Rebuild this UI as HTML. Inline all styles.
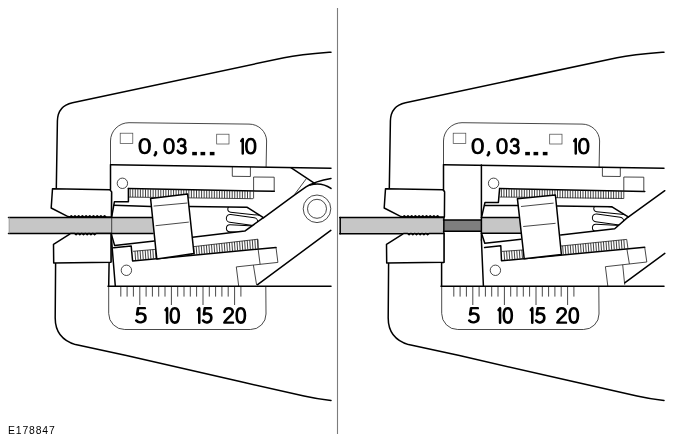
<!DOCTYPE html>
<html><head><meta charset="utf-8"><title>E178847</title>
<style>
html,body{margin:0;padding:0;background:#fff;}
body{width:674px;height:443px;overflow:hidden;position:relative;font-family:"Liberation Sans",sans-serif;}
svg{position:absolute;left:0;top:0;display:block;}
.k{fill:none;stroke:#000;stroke-width:1.5;stroke-linecap:round;stroke-linejoin:round;}
.m{fill:none;stroke:#000;stroke-width:1.0;stroke-linecap:round;stroke-linejoin:round;}
.t{fill:none;stroke:#1a1a1a;stroke-width:0.8;}
.q{fill:none;stroke:#444;stroke-width:0.7;}
.th{fill:none;stroke:#111;stroke-width:0.8;}
.g{fill:none;stroke:#000;stroke-linecap:round;stroke-linejoin:round;}
.lbl{position:absolute;left:8.4px;top:424.5px;font-size:10.4px;line-height:12px;letter-spacing:0.85px;color:#000;will-change:transform;}
</style></head>
<body>
<svg width="674" height="443" viewBox="0 0 674 443">
<rect width="674" height="443" fill="#fff"/>
<line x1="337.5" y1="8" x2="337.5" y2="434" stroke="#7c7c7c" stroke-width="1.1"/>
<g id="L">
<rect x="8.8" y="217.4" width="145" height="16" fill="#c6c6c6"/>
<line x1="8.5" y1="217.4" x2="152.0" y2="217.4" class="k"/>
<line x1="8.5" y1="233.4" x2="153.0" y2="233.4" class="k"/>
<line x1="9.2" y1="217.4" x2="9.2" y2="233.4" class="t" style="stroke:#999"/>
<line x1="110.5" y1="164.7" x2="110.5" y2="189.6" class="k"/>
<line x1="111.7" y1="192.0" x2="111.7" y2="262.0" class="t"/>
<line x1="109.1" y1="262.4" x2="108.7" y2="286.0" class="k"/>
<circle cx="122.4" cy="183.3" r="5.2" class="t"/>
<circle cx="126.4" cy="270.3" r="5.2" class="t"/>
<line x1="128.4" y1="188.6" x2="274.3" y2="191.3" class="k"/>
<path d="M130.20,189.12L130.20,197.02M132.75,189.15L132.75,197.05M135.30,189.19L135.30,197.09M137.85,189.22L137.85,197.12M140.40,189.25L140.40,197.15M142.95,189.28L142.95,197.18M145.50,189.31L145.50,197.21M148.05,189.35L148.05,197.25M150.60,189.38L150.60,197.28M153.15,189.41L153.15,197.31M155.70,189.44L155.70,197.34M158.25,189.47L158.25,197.37M160.80,189.50L160.80,197.41M163.35,189.54L163.35,197.44M165.90,189.57L165.90,197.47M168.45,189.60L168.45,197.50M171.00,189.63L171.00,197.53M173.55,189.66L173.55,197.56M176.10,189.70L176.10,197.60M178.65,189.73L178.65,197.63M181.20,189.76L181.20,197.66M183.75,189.79L183.75,197.69M186.30,189.82L186.30,197.72M188.85,189.86L188.85,197.76M191.40,189.89L191.40,197.79M193.95,189.92L193.95,197.82M196.50,189.95L196.50,197.85M199.05,189.98L199.05,197.88M201.60,190.01L201.60,197.91M204.15,190.05L204.15,197.95M206.70,190.08L206.70,197.98M209.25,190.11L209.25,198.01M211.80,190.14L211.80,198.04M214.35,190.17L214.35,198.07M216.90,190.21L216.90,198.11M219.45,190.24L219.45,198.14M222.00,190.27L222.00,198.17M224.55,190.30L224.55,198.20M227.10,190.33L227.10,198.23M229.65,190.37L229.65,198.27M232.20,190.40L232.20,198.30M234.75,190.43L234.75,198.33M237.30,190.46L237.30,198.36M239.85,190.49L239.85,198.39M242.40,190.53L242.40,198.43M244.95,190.56L244.95,198.46M247.50,190.59L247.50,198.49M250.05,190.62L250.05,198.52" class="th"/>
<line x1="128.4" y1="197.1" x2="253.0" y2="198.7" class="t"/>
<path d="M128.4,188.6 L128.4,201.8 L114.4,201.8 L111.7,216.8" class="k" />
<line x1="114.0" y1="205.2" x2="151.0" y2="206.4" class="k"/>
<path d="M111.2,233.6 L114.6,245.4 L154.4,241.1" class="k" />
<line x1="111.0" y1="233.6" x2="115.3" y2="286.0" class="k"/>
<path d="M113.6,247.7 L131.2,246.1 L132.6,261 L276,247.4" class="k" />
<line x1="133.0" y1="251.3" x2="157.0" y2="249.2" class="t"/>
<line x1="193.0" y1="246.7" x2="258.0" y2="239.2" class="t"/>
<path d="M135.00,251.13L135.60,260.17M137.55,250.90L138.15,259.93M140.10,250.68L140.70,259.69M142.65,250.46L143.25,259.45M145.20,250.24L145.80,259.21M147.75,250.02L148.35,258.96M150.30,249.79L150.90,258.72M152.85,249.57L153.45,258.48M155.40,249.35L156.00,258.24M157.95,249.13L158.55,258.00M160.50,248.91L161.10,257.76M163.05,248.69L163.65,257.51M165.60,248.46L166.20,257.27M168.15,248.24L168.75,257.03M170.70,248.02L171.30,256.79M173.25,247.80L173.85,256.55M175.80,248.66L176.40,256.30M178.35,248.36L178.95,256.06M180.90,248.07L181.50,255.82M183.45,247.78L184.05,255.58M186.00,247.48L186.60,255.34M188.55,247.19L189.15,255.10M191.10,246.90L191.70,254.85M193.65,246.61L194.25,254.61M196.20,246.31L196.80,254.37M198.75,246.02L199.35,254.13M201.30,245.73L201.90,253.89M203.85,245.43L204.45,253.65M206.40,245.14L207.00,253.40M208.95,244.85L209.55,253.16M211.50,244.55L212.10,252.92M214.05,244.26L214.65,252.68M216.60,243.97L217.20,252.44M219.15,243.68L219.75,252.20M221.70,243.38L222.30,251.95M224.25,243.09L224.85,251.71M226.80,242.80L227.40,251.47M229.35,242.50L229.95,251.23M231.90,242.21L232.50,250.99M234.45,241.92L235.05,250.74M237.00,241.62L237.60,250.50M239.55,241.33L240.15,250.26M242.10,241.04L242.70,250.02M244.65,240.75L245.25,249.78M247.20,240.45L247.80,249.54M249.75,240.16L250.35,249.29M252.30,239.87L252.90,249.05M254.85,239.57L255.45,248.81M257.40,239.28L258.00,248.57" class="th"/>
<line x1="258.0" y1="239.4" x2="258.2" y2="249.0" class="t"/>
<path d="M189.3,206.5 L247.3,207.3 L263.4,217.6 L244.8,231.1 L192.4,237.2" class="k" />
<clipPath id="cl"><polygon points="189.3,206.5 247.3,207.3 263.4,217.6 244.8,231.1 192.4,237.2"/></clipPath>
<g clip-path="url(#cl)"><g transform="translate(0,0)">
<rect x="226.4" y="224.5" width="31" height="7.1" rx="3.55" transform="rotate(3.0,226.4,228.05)" class="m"/>
<rect x="226.4" y="213.9" width="31.5" height="7.8" rx="3.90" transform="rotate(8.0,226.4,217.80)" class="m"/>
<rect x="227.8" y="205.6" width="34" height="6.3" rx="3.15" transform="rotate(6.0,227.8,208.75)" class="m"/>
</g></g>
<polygon points="150.6,198.6 187.6,194.0 194.0,253.6 156.8,259.0" class="k" style="fill:#fff"/>
<line x1="153.6" y1="206.1" x2="187.4" y2="203.0" class="t"/>
<line x1="155.6" y1="225.7" x2="188.8" y2="222.1" class="t"/>
<path d="M232.3,166.6 L232.3,176.3 L250.4,176.5 L250.4,166.9" class="t" />
<path d="M253.6,198.6 L253.6,177 L274.2,177.2 L274.2,191.8" class="t" />
<path d="M263.4,217.8 L294,195.3 L306,186.9 C311.5,183.4 319,180.3 331,178.4" class="k" />
<path d="M290.9,167.7 L315,183.7" class="k" />
<path d="M310.0,185.1 A24.7,24.7 0 0 1 331,188.45" class="k" />
<line x1="306.7" y1="178.2" x2="294.0" y2="195.2" class="t"/>
<circle cx="317" cy="208.8" r="13.8" class="t"/><circle cx="317" cy="208.8" r="9.5" class="t"/>
<line x1="330.8" y1="230.4" x2="257.6" y2="284.6" class="k"/>
<path d="M258.1,249 L260.1,264.3 M276,247.4 L277.9,262.4 L236.3,266.9 L238.7,286 M253.4,265.1 L256.6,285" class="t" />
<path d="M331,52.2 C316,53.4 300,54.6 284,57.7 L72.5,102.7 Q57.7,105.8 57.4,121 L56.3,189" class="k" />
<path d="M55.6,263 L55.2,318 Q55.2,338.5 75.5,344.6 L126.4,355.6 L240,381.6 L304,396 Q316,398.8 331,400.4" class="k" />
<path d="M110.5,165 L110.5,141 A18.5,18.3 0 0 1 129,122.7 L249,124.1 A17.6,17 0 0 1 266.6,141 L266.1,167" class="t" />
<path d="M108.7,286 L108.7,313.5 A16,16 0 0 0 124.7,329.5 L250.5,329.5 A15.5,15.5 0 0 0 266,314 L265.8,286" class="t" />
<rect x="120.2" y="133.2" width="12.6" height="10.3" class="q"/>
<rect x="216.7" y="134.2" width="12.3" height="9.8" class="q"/>
<line x1="120.8" y1="286.0" x2="120.8" y2="296.6" class="t"/>
<line x1="127.1" y1="286.0" x2="127.1" y2="296.6" class="t"/>
<line x1="133.4" y1="286.0" x2="133.4" y2="296.6" class="t"/>
<line x1="139.8" y1="286.0" x2="139.8" y2="305.0" class="t"/>
<line x1="146.1" y1="286.0" x2="146.1" y2="296.6" class="t"/>
<line x1="152.4" y1="286.0" x2="152.4" y2="296.6" class="t"/>
<line x1="158.7" y1="286.0" x2="158.7" y2="296.6" class="t"/>
<line x1="165.0" y1="286.0" x2="165.0" y2="296.6" class="t"/>
<line x1="171.4" y1="286.0" x2="171.4" y2="305.0" class="t"/>
<line x1="177.7" y1="286.0" x2="177.7" y2="296.6" class="t"/>
<line x1="184.0" y1="286.0" x2="184.0" y2="296.6" class="t"/>
<line x1="190.3" y1="286.0" x2="190.3" y2="296.6" class="t"/>
<line x1="196.6" y1="286.0" x2="196.6" y2="296.6" class="t"/>
<line x1="203.0" y1="286.0" x2="203.0" y2="305.0" class="t"/>
<line x1="209.3" y1="286.0" x2="209.3" y2="296.6" class="t"/>
<line x1="215.6" y1="286.0" x2="215.6" y2="296.6" class="t"/>
<line x1="221.9" y1="286.0" x2="221.9" y2="296.6" class="t"/>
<line x1="228.2" y1="286.0" x2="228.2" y2="296.6" class="t"/>
<line x1="234.6" y1="286.0" x2="234.6" y2="305.0" class="t"/>
<line x1="240.9" y1="286.0" x2="240.9" y2="296.6" class="t"/>
<path d="M7.4,0 L1.6,0 L0.8,6.3 C2.6,4.9 8,4.6 8,9.6 C8,14.6 2.2,15.6 0,12.4" transform="translate(136.28,308.17) scale(1.144,0.997)" class="g" style="stroke-width:2.38"/>
<path d="M0,1.9 L1.5,0 L1.5,14.5" transform="translate(165.58,308.17) scale(1.000,0.997)" class="g" style="stroke-width:2.55"/>
<path d="M0,7.25 C0,2.2 1.3,0 4,0 C6.7,0 8,2.2 8,7.25 C8,12.3 6.7,14.5 4,14.5 C1.3,14.5 0,12.3 0,7.25 Z" transform="translate(170.78,308.17) scale(1.006,0.997)" class="g" style="stroke-width:2.55"/>
<path d="M0,1.9 L1.5,0 L1.5,14.5" transform="translate(197.78,308.17) scale(1.000,0.997)" class="g" style="stroke-width:2.55"/>
<path d="M7.4,0 L1.6,0 L0.8,6.3 C2.6,4.9 8,4.6 8,9.6 C8,14.6 2.2,15.6 0,12.4" transform="translate(203.08,308.17) scale(1.031,0.997)" class="g" style="stroke-width:2.52"/>
<path d="M0.3,3.9 C0.4,-1.2 8,-1.2 7.8,3.8 C7.6,7.4 2,10 0.2,14.5 L8,14.5" transform="translate(224.18,308.17) scale(1.094,0.997)" class="g" style="stroke-width:2.44"/>
<path d="M0,7.25 C0,2.2 1.3,0 4,0 C6.7,0 8,2.2 8,7.25 C8,12.3 6.7,14.5 4,14.5 C1.3,14.5 0,12.3 0,7.25 Z" transform="translate(236.68,308.17) scale(1.031,0.997)" class="g" style="stroke-width:2.52"/>
<path d="M0,7.25 C0,2.2 1.3,0 4,0 C6.7,0 8,2.2 8,7.25 C8,12.3 6.7,14.5 4,14.5 C1.3,14.5 0,12.3 0,7.25 Z" transform="translate(139.85,139.05) scale(1.212,0.972)" class="g" style="stroke-width:2.29"/>
<path d="M155.9,152.4 L155.9,153.6 L154.8,155.2" class="g" style="stroke-width:2.7"/>
<path d="M0,7.25 C0,2.2 1.3,0 4,0 C6.7,0 8,2.2 8,7.25 C8,12.3 6.7,14.5 4,14.5 C1.3,14.5 0,12.3 0,7.25 Z" transform="translate(164.65,139.05) scale(1.100,0.972)" class="g" style="stroke-width:2.41"/>
<path d="M0.5,2.6 C1.5,-0.9 7.6,-0.9 7.6,3.5 C7.6,6 5.2,6.9 3.4,6.9 C5.6,6.9 8,8 8,10.8 C8,15.6 1.5,15.6 0,12" transform="translate(177.75,139.05) scale(0.975,0.972)" class="g" style="stroke-width:2.57"/>
<rect x="192.2" y="151.9" width="4.7" height="3.4" fill="#000"/>
<rect x="200.5" y="151.9" width="4.7" height="3.4" fill="#000"/>
<rect x="209.8" y="151.9" width="4.7" height="3.4" fill="#000"/>
<path d="M0,1.9 L1.5,0 L1.5,14.5" transform="translate(241.25,139.05) scale(1.000,0.993)" class="g" style="stroke-width:2.51"/>
<path d="M0,7.25 C0,2.2 1.3,0 4,0 C6.7,0 8,2.2 8,7.25 C8,12.3 6.7,14.5 4,14.5 C1.3,14.5 0,12.3 0,7.25 Z" transform="translate(246.35,139.05) scale(1.100,0.986)" class="g" style="stroke-width:2.40"/>
<line x1="110.6" y1="164.7" x2="331.0" y2="168.3" class="k"/>
<line x1="108.0" y1="286.2" x2="331.0" y2="286.2" class="k"/>
<polygon points="52.5,188.7 109.8,189.7 111.6,191.8 111.4,216.9 106.0,216.9 104.6,215.7 103.2,216.9 102.3,216.9 100.9,215.7 99.5,216.9 98.6,216.9 97.2,215.7 95.8,216.9 94.9,216.9 93.5,215.7 92.1,216.9 91.2,216.9 89.8,215.7 88.4,216.9 87.5,216.9 86.1,215.7 84.7,216.9 83.8,216.9 82.4,215.7 81.0,216.9 80.1,216.9 78.7,215.7 77.3,216.9 76.4,216.9 75.0,215.7 73.6,216.9 72.7,216.9 71.3,215.7 69.9,216.9 68.0,216.6 51.2,208.0" class="k" style="fill:#fff"/>
<polygon points="111.0,233.6 96.0,233.6 94.6,234.8 93.2,233.6 92.3,233.6 90.9,234.8 89.5,233.6 88.6,233.6 87.2,234.8 85.8,233.6 84.9,233.6 83.5,234.8 82.1,233.6 81.2,233.6 79.8,234.8 78.4,233.6 77.5,233.6 76.1,234.8 74.7,233.6 70.5,233.6 53.5,244.3 53.7,263.0 111.0,262.3" class="k" style="fill:#fff"/>
</g>
<g id="R">
<rect x="339.7" y="217.4" width="104" height="16.4" fill="#c6c6c6"/>
<line x1="339.7" y1="217.4" x2="443.5" y2="217.4" class="k"/>
<line x1="339.7" y1="233.8" x2="443.5" y2="233.8" class="k"/>
<line x1="340.2" y1="217.4" x2="340.2" y2="233.8" class="k"/>
<rect x="443.5" y="220" width="38" height="11.3" fill="#7e7e7e"/>
<line x1="443.5" y1="220.0" x2="481.4" y2="220.0" class="k"/>
<line x1="443.5" y1="231.3" x2="481.4" y2="231.3" class="k"/>
<rect x="481.4" y="217.4" width="40" height="16" fill="#c6c6c6"/>
<line x1="481.4" y1="217.4" x2="520.0" y2="217.4" class="k"/>
<line x1="481.4" y1="233.3" x2="522.0" y2="233.3" class="k"/>
<path d="M443.5,164.7 L443.5,189.6 L444.0,192 L443.7,262.4 L441.6,262.4 L441.6,286.2" class="k" />
<line x1="481.4" y1="164.9" x2="481.4" y2="240.0" class="k"/>
<line x1="481.4" y1="240.0" x2="483.4" y2="286.0" class="k"/>
<circle cx="493.6" cy="183.3" r="5.2" class="t"/>
<circle cx="495.4" cy="270.3" r="5.2" class="t"/>
<line x1="499.6" y1="188.6" x2="644.8" y2="191.5" class="k"/>
<path d="M501.40,189.13L501.40,197.03M503.95,189.17L503.95,197.07M506.50,189.21L506.50,197.11M509.05,189.25L509.05,197.15M511.60,189.29L511.60,197.19M514.15,189.33L514.15,197.23M516.70,189.37L516.70,197.27M519.25,189.40L519.25,197.30M521.80,189.44L521.80,197.34M524.35,189.48L524.35,197.38M526.90,189.52L526.90,197.42M529.45,189.56L529.45,197.46M532.00,189.60L532.00,197.50M534.55,189.64L534.55,197.54M537.10,189.68L537.10,197.58M539.65,189.72L539.65,197.62M542.20,189.76L542.20,197.66M544.75,189.80L544.75,197.70M547.30,189.84L547.30,197.74M549.85,189.88L549.85,197.78M552.40,189.92L552.40,197.82M554.95,189.96L554.95,197.86M557.50,190.00L557.50,197.90M560.05,190.04L560.05,197.94M562.60,190.08L562.60,197.98M565.15,190.12L565.15,198.02M567.70,190.16L567.70,198.06M570.25,190.20L570.25,198.10M572.80,190.23L572.80,198.13M575.35,190.27L575.35,198.17M577.90,190.31L577.90,198.21M580.45,190.35L580.45,198.25M583.00,190.39L583.00,198.29M585.55,190.43L585.55,198.33M588.10,190.47L588.10,198.37M590.65,190.51L590.65,198.41M593.20,190.55L593.20,198.45M595.75,190.59L595.75,198.49M598.30,190.63L598.30,198.53M600.85,190.67L600.85,198.57M603.40,190.71L603.40,198.61M605.95,190.75L605.95,198.65M608.50,190.79L608.50,198.69M611.05,190.83L611.05,198.73M613.60,190.87L613.60,198.77M616.15,190.91L616.15,198.81M618.70,190.95L618.70,198.85M621.25,190.99L621.25,198.89" class="th"/>
<line x1="499.6" y1="197.0" x2="623.8" y2="198.5" class="t"/>
<path d="M499.6,188.6 L498.4,202.4 L485.0,202.4 L481.6,217.2" class="k" />
<line x1="484.6" y1="205.5" x2="518.5" y2="205.4" class="k"/>
<path d="M481.6,233.4 L484.8,243.2 L521,239.3" class="k" />
<path d="M484.6,247.6 L500.8,245.8 L501.5,260.8 L644.7,247.2" class="k" />
<line x1="502.0" y1="251.4" x2="525.0" y2="249.8" class="t"/>
<line x1="560.0" y1="246.1" x2="626.7" y2="239.4" class="t"/>
<path d="M504.00,251.26L504.60,259.96M506.55,251.08L507.15,259.72M509.10,250.90L509.70,259.48M511.65,250.72L512.25,259.24M514.20,250.55L514.80,258.99M516.75,250.37L517.35,258.75M519.30,250.19L519.90,258.51M521.85,250.01L522.45,258.27M524.40,249.83L525.00,258.02M526.95,249.65L527.55,257.78M529.50,249.48L530.10,257.54M532.05,249.30L532.65,257.30M534.60,249.12L535.20,257.06M537.15,248.94L537.75,256.81M539.70,248.76L540.30,256.57M542.25,247.94L542.85,256.33M544.80,247.68L545.40,256.09M547.35,247.42L547.95,255.84M549.90,247.16L550.50,255.60M552.45,246.90L553.05,255.36M555.00,246.65L555.60,255.12M557.55,246.39L558.15,254.88M560.10,246.13L560.70,254.63M562.65,245.87L563.25,254.39M565.20,245.62L565.80,254.15M567.75,245.36L568.35,253.91M570.30,245.10L570.90,253.66M572.85,244.84L573.45,253.42M575.40,244.58L576.00,253.18M577.95,244.33L578.55,252.94M580.50,244.07L581.10,252.70M583.05,243.81L583.65,252.45M585.60,243.55L586.20,252.21M588.15,243.30L588.75,251.97M590.70,243.04L591.30,251.73M593.25,242.78L593.85,251.48M595.80,242.52L596.40,251.24M598.35,242.26L598.95,251.00M600.90,242.01L601.50,250.76M603.45,241.75L604.05,250.51M606.00,241.49L606.60,250.27M608.55,241.23L609.15,250.03M611.10,240.98L611.70,249.79M613.65,240.72L614.25,249.55M616.20,240.46L616.80,249.30M618.75,240.20L619.35,249.06M621.30,239.94L621.90,248.82M623.85,239.69L624.45,248.58" class="th"/>
<line x1="626.7" y1="239.4" x2="628.0" y2="248.8" class="t"/>
<path d="M557.4,206.0 L612,206.8 L628.2,216.9 L614.7,228.8 L560.7,235" class="k" />
<clipPath id="cr"><polygon points="557.4,206.0 612.2,206.8 628.6,216.9 614.7,228.8 560.7,235.0"/></clipPath>
<g clip-path="url(#cr)"><g transform="translate(366,-0.5)">
<rect x="226.4" y="224.5" width="31" height="7.1" rx="3.55" transform="rotate(3.0,226.4,228.05)" class="m"/>
<rect x="226.4" y="213.9" width="31.5" height="7.8" rx="3.90" transform="rotate(8.0,226.4,217.80)" class="m"/>
<rect x="227.8" y="205.6" width="34" height="6.3" rx="3.15" transform="rotate(6.0,227.8,208.75)" class="m"/>
</g></g>
<polygon points="517.4,198.7 555.4,195.0 561.4,254.5 524.2,258.8" class="k" style="fill:#fff"/>
<line x1="521.0" y1="206.5" x2="553.6" y2="203.1" class="t"/>
<line x1="523.2" y1="226.5" x2="555.6" y2="223.3" class="t"/>
<path d="M602.4,166.9 L602.4,176.3 L620.3,176.5 L620.3,167.2" class="t" />
<path d="M623.8,198.5 L623.8,177 L643.8,177.2 L643.8,191.5" class="t" />
<line x1="628.2" y1="217.2" x2="664.8" y2="190.7" class="k"/>
<line x1="664.8" y1="253.4" x2="624.7" y2="282.8" class="k"/>
<path d="M626.9,249 L629.4,264 M644.7,247.2 L646.8,262 L605.4,266.7 L607.8,286 M622.7,264.8 L624.7,284.7" class="t" />
<path d="M664,52.2 C649,53.4 633,54.6 617,57.7 L405.5,102.7 Q390.7,105.8 390.4,121 L389.3,189" class="k" />
<path d="M388.6,263 L388.2,318 Q388.2,338.5 408.5,344.6 L459.4,355.6 L573,381.6 L637,396 Q649,398.8 664,400.4" class="k" />
<path d="M443.5,165 L443.5,141 A18.5,18.3 0 0 1 462,122.7 L582,124.1 A17.6,17 0 0 1 599.6,141 L599.1,167" class="t" />
<path d="M441.7,286 L441.7,313.5 A16,16 0 0 0 457.7,329.5 L583.5,329.5 A15.5,15.5 0 0 0 599,314 L598.8,286" class="t" />
<rect x="453.2" y="133.2" width="12.6" height="10.3" class="q"/>
<rect x="549.7" y="134.2" width="12.3" height="9.8" class="q"/>
<line x1="453.8" y1="286.0" x2="453.8" y2="296.6" class="t"/>
<line x1="460.1" y1="286.0" x2="460.1" y2="296.6" class="t"/>
<line x1="466.4" y1="286.0" x2="466.4" y2="296.6" class="t"/>
<line x1="472.8" y1="286.0" x2="472.8" y2="305.0" class="t"/>
<line x1="479.1" y1="286.0" x2="479.1" y2="296.6" class="t"/>
<line x1="485.4" y1="286.0" x2="485.4" y2="296.6" class="t"/>
<line x1="491.7" y1="286.0" x2="491.7" y2="296.6" class="t"/>
<line x1="498.0" y1="286.0" x2="498.0" y2="296.6" class="t"/>
<line x1="504.4" y1="286.0" x2="504.4" y2="305.0" class="t"/>
<line x1="510.7" y1="286.0" x2="510.7" y2="296.6" class="t"/>
<line x1="517.0" y1="286.0" x2="517.0" y2="296.6" class="t"/>
<line x1="523.3" y1="286.0" x2="523.3" y2="296.6" class="t"/>
<line x1="529.6" y1="286.0" x2="529.6" y2="296.6" class="t"/>
<line x1="536.0" y1="286.0" x2="536.0" y2="305.0" class="t"/>
<line x1="542.3" y1="286.0" x2="542.3" y2="296.6" class="t"/>
<line x1="548.6" y1="286.0" x2="548.6" y2="296.6" class="t"/>
<line x1="554.9" y1="286.0" x2="554.9" y2="296.6" class="t"/>
<line x1="561.2" y1="286.0" x2="561.2" y2="296.6" class="t"/>
<line x1="567.6" y1="286.0" x2="567.6" y2="305.0" class="t"/>
<line x1="573.9" y1="286.0" x2="573.9" y2="296.6" class="t"/>
<path d="M7.4,0 L1.6,0 L0.8,6.3 C2.6,4.9 8,4.6 8,9.6 C8,14.6 2.2,15.6 0,12.4" transform="translate(469.27,308.17) scale(1.144,0.997)" class="g" style="stroke-width:2.38"/>
<path d="M0,1.9 L1.5,0 L1.5,14.5" transform="translate(498.57,308.17) scale(1.000,0.997)" class="g" style="stroke-width:2.55"/>
<path d="M0,7.25 C0,2.2 1.3,0 4,0 C6.7,0 8,2.2 8,7.25 C8,12.3 6.7,14.5 4,14.5 C1.3,14.5 0,12.3 0,7.25 Z" transform="translate(503.77,308.17) scale(1.006,0.997)" class="g" style="stroke-width:2.55"/>
<path d="M0,1.9 L1.5,0 L1.5,14.5" transform="translate(530.77,308.17) scale(1.000,0.997)" class="g" style="stroke-width:2.55"/>
<path d="M7.4,0 L1.6,0 L0.8,6.3 C2.6,4.9 8,4.6 8,9.6 C8,14.6 2.2,15.6 0,12.4" transform="translate(536.07,308.17) scale(1.031,0.997)" class="g" style="stroke-width:2.52"/>
<path d="M0.3,3.9 C0.4,-1.2 8,-1.2 7.8,3.8 C7.6,7.4 2,10 0.2,14.5 L8,14.5" transform="translate(557.17,308.17) scale(1.094,0.997)" class="g" style="stroke-width:2.44"/>
<path d="M0,7.25 C0,2.2 1.3,0 4,0 C6.7,0 8,2.2 8,7.25 C8,12.3 6.7,14.5 4,14.5 C1.3,14.5 0,12.3 0,7.25 Z" transform="translate(569.67,308.17) scale(1.031,0.997)" class="g" style="stroke-width:2.52"/>
<path d="M0,7.25 C0,2.2 1.3,0 4,0 C6.7,0 8,2.2 8,7.25 C8,12.3 6.7,14.5 4,14.5 C1.3,14.5 0,12.3 0,7.25 Z" transform="translate(472.85,139.05) scale(1.212,0.972)" class="g" style="stroke-width:2.29"/>
<path d="M488.9,152.4 L488.9,153.6 L487.8,155.2" class="g" style="stroke-width:2.7"/>
<path d="M0,7.25 C0,2.2 1.3,0 4,0 C6.7,0 8,2.2 8,7.25 C8,12.3 6.7,14.5 4,14.5 C1.3,14.5 0,12.3 0,7.25 Z" transform="translate(497.65,139.05) scale(1.100,0.972)" class="g" style="stroke-width:2.41"/>
<path d="M0.5,2.6 C1.5,-0.9 7.6,-0.9 7.6,3.5 C7.6,6 5.2,6.9 3.4,6.9 C5.6,6.9 8,8 8,10.8 C8,15.6 1.5,15.6 0,12" transform="translate(510.75,139.05) scale(0.975,0.972)" class="g" style="stroke-width:2.57"/>
<rect x="525.2" y="151.9" width="4.7" height="3.4" fill="#000"/>
<rect x="533.5" y="151.9" width="4.7" height="3.4" fill="#000"/>
<rect x="542.8" y="151.9" width="4.7" height="3.4" fill="#000"/>
<path d="M0,1.9 L1.5,0 L1.5,14.5" transform="translate(574.25,139.05) scale(1.000,0.993)" class="g" style="stroke-width:2.51"/>
<path d="M0,7.25 C0,2.2 1.3,0 4,0 C6.7,0 8,2.2 8,7.25 C8,12.3 6.7,14.5 4,14.5 C1.3,14.5 0,12.3 0,7.25 Z" transform="translate(579.35,139.05) scale(1.100,0.986)" class="g" style="stroke-width:2.40"/>
<line x1="443.6" y1="164.7" x2="664.0" y2="168.3" class="k"/>
<line x1="441.0" y1="286.2" x2="664.0" y2="286.2" class="k"/>
<polygon points="385.5,188.7 442.8,189.7 444.6,191.8 444.4,216.9 439.0,216.9 437.6,215.7 436.2,216.9 435.3,216.9 433.9,215.7 432.5,216.9 431.6,216.9 430.2,215.7 428.8,216.9 427.9,216.9 426.5,215.7 425.1,216.9 424.2,216.9 422.8,215.7 421.4,216.9 420.5,216.9 419.1,215.7 417.7,216.9 416.8,216.9 415.4,215.7 414.0,216.9 413.1,216.9 411.7,215.7 410.3,216.9 409.4,216.9 408.0,215.7 406.6,216.9 405.7,216.9 404.3,215.7 402.9,216.9 401.0,216.6 384.2,208.0" class="k" style="fill:#fff"/>
<polygon points="444.0,233.6 429.0,233.6 427.6,234.8 426.2,233.6 425.3,233.6 423.9,234.8 422.5,233.6 421.6,233.6 420.2,234.8 418.8,233.6 417.9,233.6 416.5,234.8 415.1,233.6 414.2,233.6 412.8,234.8 411.4,233.6 410.5,233.6 409.1,234.8 407.7,233.6 403.5,233.6 386.5,244.3 386.7,263.0 444.0,262.3" class="k" style="fill:#fff"/>
</g>
</svg>
<div class="lbl">E178847</div>
</body></html>
